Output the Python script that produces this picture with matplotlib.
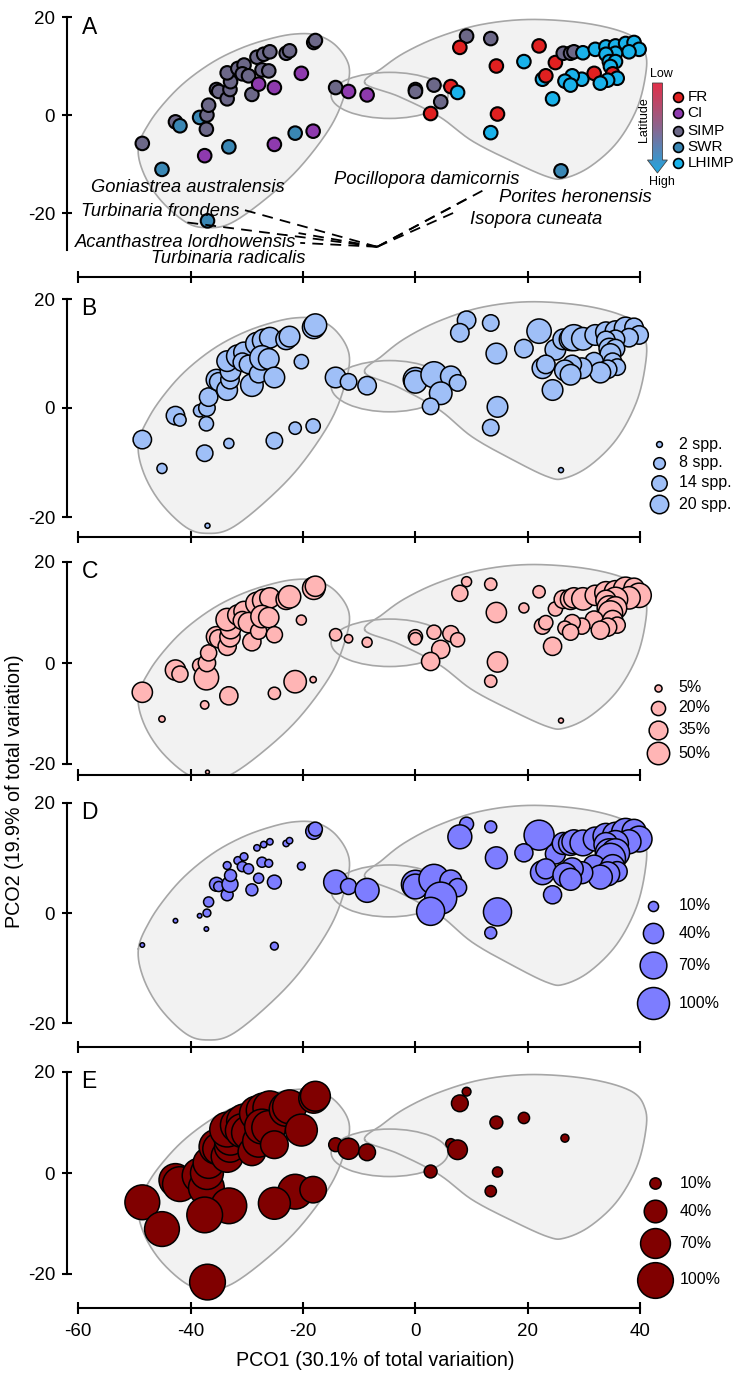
import numpy as np
import matplotlib
matplotlib.use('Agg')
import matplotlib.pyplot as plt
from matplotlib.patches import Ellipse, Polygon
from matplotlib.colors import LinearSegmentedColormap

plt.rcParams['font.family'] = ['Liberation Sans', 'DejaVu Sans']
plt.rcParams['axes.unicode_minus'] = False

# site coordinates on PCO1 / PCO2 (same sites in every panel)
site_x = [-48.6, -45.1, -42.7, -41.9, -38.4, -37.2, -37.1, -36.8, -35.4, -35.0,
          -33.5, -33.0, -32.9, -33.5, -31.6, -30.5, -30.8, -29.7, -29.1, -27.9,
          -28.2, -27.0, -25.9, -27.3, -26.1, -25.1, -23.0, -22.4, -20.3, -18.1,
          -17.8, -21.4, -18.2, -25.1, -33.2, -37.5, -37.0, -14.2, -11.9, -8.6,
          0.0, 0.0, 3.3, 6.3, 7.5, 4.5, 2.7, 9.1, 13.4, 7.9,
          14.4, 14.6, 13.4, 22.0, 19.3, 24.9, 24.4, 25.9, 22.6, 23.2,
          26.3, 27.6, 28.2, 29.8, 32.0, 33.9, 35.6, 37.4, 38.9, 39.8,
          38.0, 35.6, 33.9, 34.5, 35.6, 34.7, 31.8, 35.1, 35.9, 34.2,
          32.9, 29.6, 27.9, 26.6, 27.6]
site_y = [-5.8, -11.1, -1.4, -2.2, -0.5, -2.9, 0.0, 2.0, 5.2, 4.8,
          3.3, 5.2, 6.8, 8.6, 9.5, 10.2, 8.4, 8.0, 4.2, 6.3,
          11.8, 12.4, 12.9, 9.2, 9.0, 5.6, 12.6, 13.1, 8.5, 14.8,
          15.2, -3.7, -3.3, -6.0, -6.5, -8.3, -21.6, 5.6, 4.8, 4.1,
          5.2, 4.8, 6.1, 5.8, 4.6, 2.7, 0.3, 16.1, 15.6, 13.8,
          10.0, 0.2, -3.6, 14.1, 10.9, 10.7, 3.3, -11.4, 7.3, 8.0,
          12.6, 12.6, 12.9, 12.7, 13.4, 13.9, 14.1, 14.6, 14.8, 13.4,
          12.9, 12.6, 12.4, 10.9, 10.9, 9.9, 8.5, 8.4, 7.5, 7.1,
          6.5, 7.3, 8.0, 6.9, 6.1]
site_reg = ['SIMP', 'SWR', 'SIMP', 'SWR', 'SWR', 'SIMP', 'SIMP', 'SIMP', 'SIMP', 'SIMP',
            'SIMP', 'SIMP', 'SIMP', 'SIMP', 'SIMP', 'SIMP', 'SIMP', 'SIMP', 'SIMP', 'CI',
            'SIMP', 'SIMP', 'SIMP', 'SIMP', 'SIMP', 'CI', 'SIMP', 'SIMP', 'CI', 'SIMP',
            'SIMP', 'SWR', 'CI', 'CI', 'SWR', 'CI', 'SWR', 'SIMP', 'CI', 'CI',
            'SIMP', 'SIMP', 'SIMP', 'FR', 'LHIMP', 'SIMP', 'FR', 'SIMP', 'SIMP', 'FR',
            'FR', 'FR', 'LHIMP', 'FR', 'LHIMP', 'FR', 'LHIMP', 'SWR', 'LHIMP', 'FR',
            'SIMP', 'SIMP', 'SIMP', 'LHIMP', 'LHIMP', 'LHIMP', 'LHIMP', 'LHIMP', 'LHIMP', 'LHIMP',
            'LHIMP', 'LHIMP', 'LHIMP', 'LHIMP', 'LHIMP', 'LHIMP', 'FR', 'FR', 'LHIMP', 'LHIMP',
            'LHIMP', 'LHIMP', 'LHIMP', 'LHIMP', 'LHIMP']

# B: species richness (spp.)
rich = [20, 6, 20, 9, 9, 12, 16, 20, 25, 20,
        25, 20, 25, 25, 30, 25, 20, 20, 30, 20,
        30, 30, 25, 35, 25, 25, 25, 25, 12, 30,
        30, 9, 12, 16, 6, 16, 1.5, 25, 16, 20,
        35, 30, 40, 25, 16, 30, 16, 20, 16, 20,
        25, 25, 16, 35, 20, 25, 25, 1.5, 25, 20,
        25, 30, 40, 30, 25, 25, 25, 30, 20, 20,
        20, 20, 20, 25, 20, 25, 20, 20, 16, 20,
        25, 25, 20, 25, 25]
# C, D, E: percentages
pct_c = [41, 4, 41, 26, 20, 60, 30, 26, 41, 33,
         33, 41, 41, 50, 41, 41, 33, 41, 33, 26,
         50, 50, 41, 50, 41, 26, 41, 50, 10, 50,
         41, 50, 4, 15, 33, 7, 1.5, 15, 7, 10,
         20, 15, 20, 26, 20, 33, 33, 10, 15, 26,
         41, 41, 15, 15, 10, 20, 33, 2.5, 26, 20,
         33, 41, 41, 50, 41, 50, 50, 59, 41, 59,
         50, 59, 41, 59, 50, 59, 33, 41, 26, 33,
         33, 26, 26, 20, 26]
pct_d = [2, 0, 2, 0, 2, 2, 6, 10, 19, 10,
         14, 25, 14, 6, 6, 6, 10, 10, 14, 10,
         4, 4, 4, 10, 6, 19, 4, 4, 6, 25,
         19, 0, 0, 6, 0, 0, 0, 56, 25, 56,
         77, 60, 88, 47, 32, 100, 77, 19, 14, 56,
         47, 77, 14, 88, 32, 39, 32, 0, 56, 39,
         47, 56, 56, 65, 56, 65, 65, 77, 56, 65,
         56, 65, 56, 77, 77, 88, 47, 56, 39, 56,
         56, 47, 47, 56, 47]
pct_e = [95, 95, 85, 95, 95, 100, 85, 75, 95, 80,
         80, 75, 85, 95, 95, 95, 90, 90, 60, 80,
         95, 95, 90, 95, 90, 60, 90, 90, 80, 70,
         70, 95, 55, 80, 100, 100, 100, 15, 35, 22,
         0, 0, 0, 8, 30, 0, 13, 6, 0, 22,
         13, 8, 10, 0, 10, 0, 0, 0, 0, 0,
         0, 0, 0, 0, 0, 0, 0, 0, 0, 0,
         0, 0, 0, 0, 0, 0, 0, 0, 0, 0,
         0, 0, 0, 5, 0]

regions = ['FR', 'CI', 'SIMP', 'SWR', 'LHIMP']
reg_colors = {'FR': '#e02020', 'CI': '#8e3aae', 'SIMP': '#6c6888',
              'SWR': '#3a87b4', 'LHIMP': '#19b2ea'}

# species vectors (panel A)
vec_origin = (-6.8, -26.9)
vec_end_x = [-31.7, -41.5, -20.8, -20.5, 12.5, 9.8, 7.1]
vec_end_y = [-19.0, -21.8, -24.1, -26.1, -15.1, -16.7, -19.8]
species = ['Goniastrea australensis', 'Turbinaria frondens', 'Acanthastrea lordhowensis',
           'Turbinaria radicalis', 'Pocillopora damicornis', 'Porites heronensis',
           'Isopora cuneata']
species_xy = [(-40.5, -14.7), (-45.4, -19.6), (-40.9, -26.1), (-33.3, -29.2),
              (2.0, -13.1), (28.5, -16.9), (21.4, -21.4)]

# group outlines
left_hull = [(-49.3, -6.5), (-47.3, -1.5), (-44.2, 3.1), (-40.6, 7.1), (-35.9, 10.9),
             (-31.1, 13.6), (-26.4, 15.4), (-21.7, 16.5), (-17.5, 16.3), (-14.0, 14.0),
             (-11.8, 9.8), (-12.5, 4.5), (-15.1, -2.4), (-20.5, -10.6), (-26.4, -16.9),
             (-32.7, -22.0), (-37.0, -23.0), (-40.8, -21.9), (-45.4, -17.3), (-48.4, -11.8)]
right_hull = [(-9.0, 6.5), (-5.9, 9.6), (-1.8, 12.8), (4.3, 16.0), (11.9, 18.5),
              (20.8, 19.5), (31.0, 18.6), (38.4, 16.2), (40.9, 12.6), (40.9, 7.8),
              (39.3, 1.0), (35.8, -5.7), (31.0, -10.6), (26.5, -12.9), (23.5, -12.6),
              (17.3, -9.5), (10.1, -5.3), (4.2, -0.3), (-3.0, 3.8)]
mid_center = (-4.6, 4.0)
mid_w, mid_h = 20.8, 9.4

# legends
rich_keys = [2, 8, 14, 20]
c_keys = [5, 20, 35, 50]
de_keys = [10, 40, 70, 100]

# panel layout in pixels: (top, bottom, y=0 row, px per unit, spine low)
panels = [
    ('A', 0, 277, 115, 4.90, -27.5),
    ('B', 280, 537, 408, 5.45, -20),
    ('C', 545, 775, 663, 5.05, -20),
    ('D', 785, 1047, 913, 5.52, -20),
    ('E', 1055, 1308, 1173, 5.05, -20),
]
W, H = 744, 1378
ppx = 5.62
x_left = -62.0
hull_fill = '#f2f2f2'
hull_edge = '#a6a6a6'


def closed_curve(pts, n=24):
    P = np.array(pts, dtype=float)
    m = len(P)
    t = np.linspace(0, 1, n, endpoint=False)[:, None]
    out = []
    for i in range(m):
        p0, p1, p2, p3 = P[i - 1], P[i], P[(i + 1) % m], P[(i + 2) % m]
        out.append(0.5 * (2 * p1 + (-p0 + p2) * t + (2 * p0 - 5 * p1 + 4 * p2 - p3) * t ** 2
                          + (-p0 + 3 * p1 - 3 * p2 + p3) * t ** 3))
    out = np.vstack(out)
    return np.vstack([out, out[:1]])


def draw_hulls(ax):
    curves = [closed_curve(left_hull), closed_curve(right_hull)]
    for c in curves:
        ax.fill(c[:, 0], c[:, 1], color=hull_fill, lw=0, zorder=1)
    ax.add_patch(Ellipse(mid_center, mid_w, mid_h, facecolor=hull_fill, edgecolor='none', zorder=1))
    for c in curves:
        ax.plot(c[:, 0], c[:, 1], color=hull_edge, lw=1.2, zorder=2)
    ax.add_patch(Ellipse(mid_center, mid_w, mid_h, facecolor='none', edgecolor=hull_edge,
                         lw=1.2, zorder=2))


fig = plt.figure(figsize=(W / 100, H / 100), dpi=100)
axes = []
for name, top, bot, y0, ppu, low in panels:
    ax = fig.add_axes([67 / W, 1 - bot / H, (W - 67) / W, (bot - top) / H])
    ax.set_xlim(x_left, x_left + (W - 67) / ppx)
    ax.set_ylim((y0 - bot) / ppu, (y0 - top) / ppu)
    for s in ('top', 'right'):
        ax.spines[s].set_visible(False)
    ax.spines['left'].set_bounds(low, 20)
    ax.spines['bottom'].set_bounds(-60, 40)
    for s in ('left', 'bottom'):
        ax.spines[s].set_linewidth(1.5)
    ax.set_yticks([-20, 0, 20])
    ax.set_xticks([-60, -40, -20, 0, 20, 40])
    ax.tick_params(axis='y', direction='inout', length=7, width=1.5, labelsize=13.5, pad=5)
    ax.tick_params(axis='x', direction='inout', length=9, width=1.5, labelsize=13.5, pad=6)
    if name != 'E':
        ax.tick_params(axis='x', labelbottom=False)
    ax.patch.set_visible(False)
    draw_hulls(ax)
    ax.text(-59.4, 20.3, name, fontsize=16.5, ha='left', va='top')
    axes.append(ax)


def py(i, pix):
    # pixel row -> data y for panel i (layout helper)
    _, _, _, y0, ppu, _ = panels[i]
    return (y0 - pix) / ppu


def pxx(pix):
    return (pix - 415) / ppx


# ---- panel A
ax = axes[0]
cols = [reg_colors[r] for r in site_reg]
ax.scatter(site_x, site_y, s=95, c=cols, edgecolors='black', linewidths=1.5, zorder=3)
for ex, ey in zip(vec_end_x, vec_end_y):
    ax.plot([vec_origin[0], ex], [vec_origin[1], ey], color='black', lw=1.3,
            dashes=(6, 4), zorder=3)
for sp, (tx, ty) in zip(species, species_xy):
    ax.text(tx, ty, sp, fontsize=13.2, style='italic', ha='center', va='center', zorder=4)

leg_rows = [97, 113, 131, 147, 163]
for r, row in zip(regions, leg_rows):
    ax.scatter([pxx(678)], [py(0, row)], s=50, c=reg_colors[r], edgecolors='black',
               linewidths=1.2, zorder=4)
    ax.text(pxx(687), py(0, row), r, fontsize=11, ha='left', va='center')

xc = pxx(657)
top_y, tip_y = py(0, 83), py(0, 173)
head_y = py(0, 160)
hw, hh = 5 / ppx, 10 / ppx
arrow = [(xc - hw, top_y), (xc + hw, top_y), (xc + hw, head_y), (xc + hh, head_y),
         (xc, tip_y), (xc - hh, head_y), (xc - hw, head_y)]
cmap = LinearSegmentedColormap.from_list('lat', ['#e2304a', '#8a6690', '#1ea8e2'])
im = ax.imshow(np.linspace(0, 1, 256).reshape(-1, 1), extent=[xc - hh, xc + hh, tip_y, top_y],
               aspect='auto', cmap=cmap, origin='upper', zorder=4)
poly = Polygon(arrow, closed=True, facecolor='none', edgecolor='#444444', lw=0.6, zorder=5)
ax.add_patch(poly)
im.set_clip_path(poly)
ax.text(pxx(661), py(0, 80), 'Low', fontsize=9, ha='center', va='bottom')
ax.text(pxx(661), py(0, 176), 'High', fontsize=9, ha='center', va='top')
ax.text(pxx(644), py(0, 120), 'Latitude', fontsize=9, rotation=90, ha='center', va='center')
ax.set_xlim(x_left, x_left + (W - 67) / ppx)
ax.set_ylim((115 - 277) / 4.9, 115 / 4.9)


def bubble_panel(i, values, k, color, keys, key_fmt, key_rows, key_cx, key_tx):
    ax = axes[i]
    v = np.array(values, dtype=float)
    m = v > 0
    ax.scatter(np.array(site_x)[m], np.array(site_y)[m], s=v[m] * k, c=color,
               edgecolors='black', linewidths=1.1, zorder=3)
    for kv, row in zip(keys, key_rows):
        ax.scatter([pxx(key_cx)], [py(i, row)], s=kv * k, c=color, edgecolors='black',
                   linewidths=1.1, zorder=4, clip_on=False)
        ax.text(pxx(key_tx), py(i, row), key_fmt.format(kv), fontsize=11.5, ha='left',
                va='center')


bubble_panel(1, rich, 8.8, '#9fbff7', rich_keys, '{} spp.', [444, 463, 483, 504], 659, 679)
bubble_panel(2, pct_c, 5.2, '#ffb5b5', c_keys, '{}%', [688, 708, 730, 753], 658, 678)
bubble_panel(3, pct_d, 5.3, '#7d7dff', de_keys, '{}%', [906, 933, 965, 1003], 653, 678)
bubble_panel(4, pct_e, 6.6, '#800000', de_keys, '{}%', [1183, 1211, 1243, 1280], 655, 679)

fig.text(375 / W, 1 - 1360 / H, 'PCO1 (30.1% of total variaition)', fontsize=14.2,
         ha='center', va='center')
fig.text(15 / W, 1 - 791 / H, 'PCO2 (19.9% of total variation)', fontsize=14.2,
         ha='center', va='center', rotation=90)

fig.savefig('out.png', dpi=100)
